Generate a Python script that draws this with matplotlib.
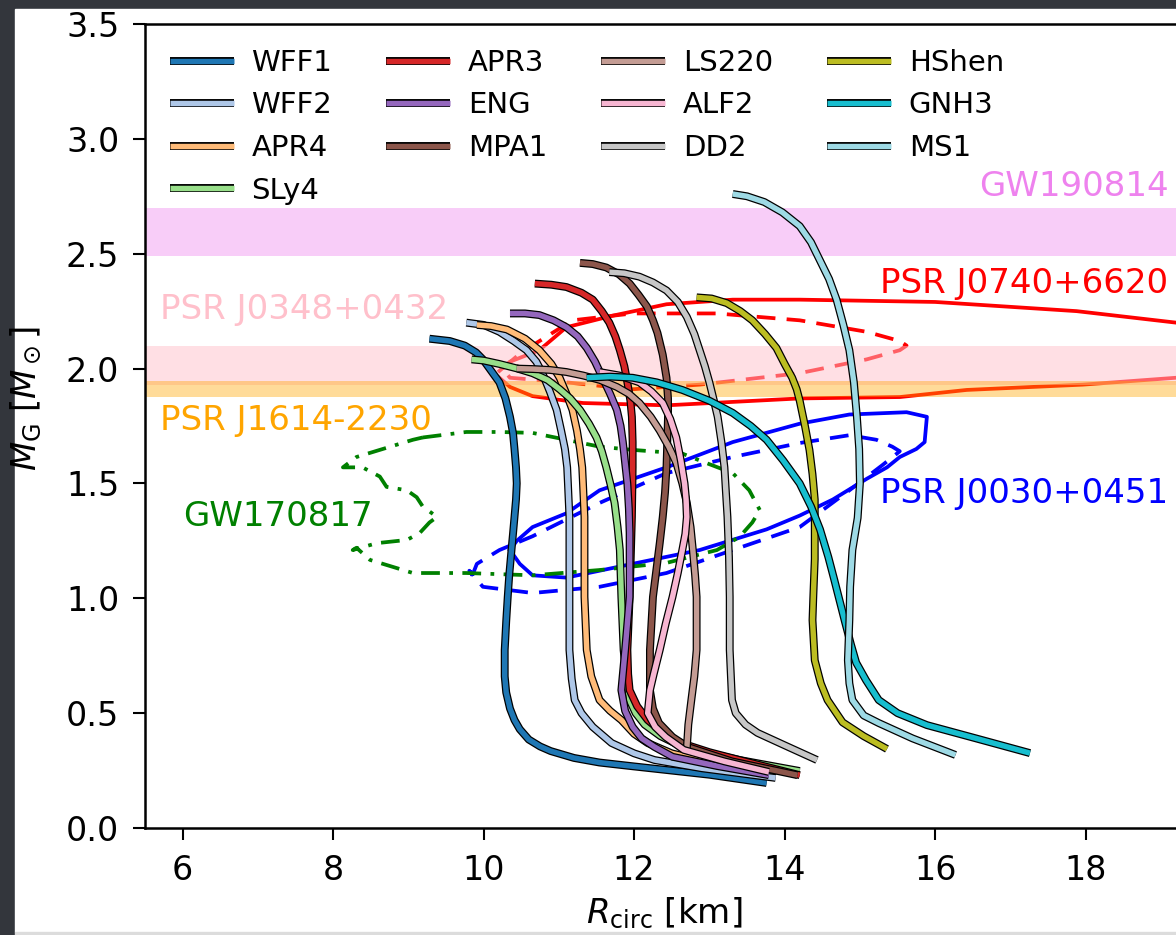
import numpy as np
import matplotlib.pyplot as plt
import matplotlib.patheffects as pe
from matplotlib.patches import Rectangle

# mass-radius curves (R in km, M in Msun)
R_WFF1 = [9.28, 9.55, 9.75, 9.90, 9.99, 10.10, 10.21, 10.29, 10.35, 10.39, 10.41, 10.43, 10.44, 10.43, 10.41, 10.39, 10.37, 10.34, 10.32, 10.30, 10.28, 10.28, 10.30, 10.35, 10.41, 10.48, 10.60, 10.75, 10.89, 11.20, 11.54, 12.00, 12.50, 13.00, 13.76]
M_WFF1 = [2.13, 2.12, 2.10, 2.07, 2.04, 1.99, 1.94, 1.87, 1.79, 1.72, 1.65, 1.57, 1.50, 1.43, 1.354, 1.28, 1.21, 1.10, 1.006, 0.90, 0.775, 0.66, 0.59, 0.52, 0.47, 0.43, 0.385, 0.355, 0.335, 0.305, 0.285, 0.268, 0.25, 0.232, 0.196]
R_WFF2 = [9.77, 10.00, 10.21, 10.40, 10.57, 10.70, 10.78, 10.88, 10.97, 11.03, 11.08, 11.11, 11.12, 11.14, 11.14, 11.14, 11.14, 11.17, 11.21, 11.30, 11.45, 11.70, 12.00, 12.27, 12.90, 13.88]
M_WFF2 = [2.20, 2.19, 2.16, 2.12, 2.08, 2.03, 1.98, 1.90, 1.82, 1.73, 1.65, 1.57, 1.50, 1.354, 1.18, 1.006, 0.775, 0.65, 0.557, 0.50, 0.44, 0.37, 0.325, 0.296, 0.26, 0.218]
R_APR4 = [9.91, 10.10, 10.31, 10.55, 10.74, 10.90, 11.01, 11.10, 11.18, 11.24, 11.28, 11.31, 11.32, 11.34, 11.34, 11.34, 11.37, 11.43, 11.54, 11.68, 11.83, 12.00, 12.18, 12.50, 12.87, 13.50, 14.20]
M_APR4 = [2.19, 2.185, 2.17, 2.13, 2.08, 2.02, 1.96, 1.89, 1.82, 1.73, 1.65, 1.57, 1.50, 1.354, 1.18, 1.006, 0.775, 0.66, 0.557, 0.51, 0.47, 0.41, 0.37, 0.325, 0.296, 0.265, 0.24]
R_SLy4 = [9.84, 10.00, 10.21, 10.45, 10.65, 10.85, 11.01, 11.15, 11.28, 11.40, 11.50, 11.57, 11.63, 11.69, 11.74, 11.78, 11.81, 11.83, 11.86, 11.90, 11.94, 12.02, 12.14, 12.35, 12.60, 13.00, 13.40, 14.20]
M_SLy4 = [2.04, 2.035, 2.02, 2.00, 1.98, 1.95, 1.91, 1.87, 1.82, 1.76, 1.70, 1.64, 1.57, 1.49, 1.415, 1.31, 1.21, 1.006, 0.775, 0.65, 0.557, 0.50, 0.45, 0.40, 0.36, 0.325, 0.296, 0.248]
R_APR3 = [10.68, 10.90, 11.10, 11.30, 11.45, 11.57, 11.67, 11.75, 11.81, 11.87, 11.91, 11.95, 11.97, 11.98, 11.98, 11.97, 11.94, 11.91, 11.92, 11.94, 12.04, 12.18, 12.40, 12.62, 13.00, 13.40, 14.20]
M_APR3 = [2.37, 2.365, 2.355, 2.33, 2.30, 2.25, 2.20, 2.14, 2.08, 2.01, 1.94, 1.86, 1.79, 1.68, 1.57, 1.354, 1.006, 0.775, 0.67, 0.60, 0.53, 0.47, 0.41, 0.37, 0.33, 0.296, 0.23]
R_ENG = [10.35, 10.55, 10.74, 10.93, 11.10, 11.25, 11.37, 11.48, 11.58, 11.68, 11.77, 11.82, 11.85, 11.88, 11.91, 11.93, 11.94, 11.94, 11.88, 11.83, 11.88, 11.98, 12.10, 12.27, 12.51, 13.10, 13.79]
M_ENG = [2.24, 2.24, 2.233, 2.21, 2.18, 2.14, 2.09, 2.03, 1.96, 1.89, 1.82, 1.75, 1.68, 1.59, 1.50, 1.39, 1.284, 1.006, 0.775, 0.60, 0.51, 0.44, 0.39, 0.353, 0.31, 0.27, 0.23]
R_MPA1 = [11.28, 11.45, 11.63, 11.80, 11.94, 12.06, 12.17, 12.25, 12.31, 12.38, 12.43, 12.45, 12.45, 12.44, 12.43, 12.41, 12.38, 12.34, 12.30, 12.25, 12.21, 12.21, 12.25, 12.33, 12.51, 12.71, 13.30, 14.17]
M_MPA1 = [2.46, 2.455, 2.44, 2.41, 2.37, 2.32, 2.27, 2.21, 2.155, 2.06, 1.96, 1.87, 1.79, 1.68, 1.57, 1.46, 1.354, 1.24, 1.136, 1.006, 0.775, 0.60, 0.52, 0.457, 0.396, 0.353, 0.29, 0.23]
R_LS220 = [10.44, 10.65, 10.88, 11.10, 11.32, 11.55, 11.77, 11.93, 12.07, 12.22, 12.34, 12.46, 12.56, 12.64, 12.70, 12.75, 12.78, 12.81, 12.83, 12.83, 12.80, 12.76, 12.72, 12.70]
M_LS220 = [2.00, 1.998, 1.994, 1.985, 1.97, 1.95, 1.92, 1.89, 1.85, 1.79, 1.73, 1.66, 1.59, 1.50, 1.415, 1.31, 1.21, 1.10, 1.006, 0.775, 0.66, 0.557, 0.45, 0.348]
R_ALF2 = [11.54, 11.80, 12.07, 12.23, 12.38, 12.48, 12.56, 12.62, 12.67, 12.69, 12.70, 12.68, 12.64, 12.58, 12.51, 12.42, 12.34, 12.26, 12.21, 12.18, 12.28, 12.42, 12.66, 13.20, 13.79]
M_ALF2 = [1.985, 1.97, 1.94, 1.90, 1.85, 1.78, 1.70, 1.60, 1.50, 1.43, 1.354, 1.28, 1.21, 1.11, 1.006, 0.89, 0.775, 0.67, 0.60, 0.50, 0.44, 0.396, 0.34, 0.29, 0.244]
R_DD2 = [11.67, 11.87, 12.07, 12.25, 12.43, 12.58, 12.70, 12.80, 12.87, 12.94, 13.00, 13.06, 13.11, 13.16, 13.20, 13.22, 13.24, 13.26, 13.27, 13.27, 13.30, 13.35, 13.48, 13.64, 14.00, 14.43]
M_DD2 = [2.42, 2.415, 2.40, 2.375, 2.34, 2.29, 2.225, 2.15, 2.08, 2.01, 1.94, 1.86, 1.79, 1.68, 1.57, 1.46, 1.354, 1.18, 1.006, 0.775, 0.557, 0.50, 0.45, 0.414, 0.36, 0.296]
R_HShen = [12.83, 13.03, 13.23, 13.41, 13.57, 13.74, 13.89, 14.00, 14.10, 14.16, 14.20, 14.27, 14.33, 14.37, 14.40, 14.40, 14.38, 14.37, 14.40, 14.48, 14.57, 14.77, 15.05, 15.36]
M_HShen = [2.31, 2.305, 2.285, 2.25, 2.21, 2.15, 2.09, 2.02, 1.96, 1.91, 1.86, 1.75, 1.645, 1.54, 1.43, 1.17, 1.00, 0.905, 0.73, 0.63, 0.557, 0.46, 0.40, 0.344]
R_GNH3 = [11.37, 11.68, 11.98, 12.30, 12.64, 13.00, 13.31, 13.55, 13.76, 13.98, 14.20, 14.35, 14.47, 14.58, 14.66, 14.73, 14.80, 14.88, 14.95, 15.08, 15.25, 15.50, 15.89, 16.60, 17.26]
M_GNH3 = [1.96, 1.965, 1.96, 1.94, 1.907, 1.86, 1.807, 1.75, 1.69, 1.60, 1.50, 1.40, 1.30, 1.18, 1.08, 0.99, 0.90, 0.80, 0.72, 0.644, 0.557, 0.50, 0.448, 0.385, 0.326]
R_MS1 = [13.31, 13.50, 13.73, 13.97, 14.20, 14.35, 14.47, 14.59, 14.69, 14.78, 14.86, 14.92, 14.96, 14.99, 15.00, 14.97, 14.90, 14.87, 14.86, 14.84, 14.86, 14.90, 15.05, 15.25, 15.70, 16.27]
M_MS1 = [2.76, 2.75, 2.725, 2.68, 2.62, 2.55, 2.47, 2.39, 2.30, 2.19, 2.08, 1.94, 1.79, 1.65, 1.50, 1.35, 1.21, 1.05, 0.905, 0.73, 0.63, 0.557, 0.49, 0.457, 0.39, 0.318]

eos_names = ['WFF1', 'WFF2', 'APR4', 'SLy4', 'APR3', 'ENG', 'MPA1',
             'LS220', 'ALF2', 'DD2', 'HShen', 'GNH3', 'MS1']
eos_R = [R_WFF1, R_WFF2, R_APR4, R_SLy4, R_APR3, R_ENG, R_MPA1,
         R_LS220, R_ALF2, R_DD2, R_HShen, R_GNH3, R_MS1]
eos_M = [M_WFF1, M_WFF2, M_APR4, M_SLy4, M_APR3, M_ENG, M_MPA1,
         M_LS220, M_ALF2, M_DD2, M_HShen, M_GNH3, M_MS1]
eos_colors = ['#1f77b4', '#aec7e8', '#ffbb78', '#98df8a', '#d62728', '#9467bd', '#8c564b',
              '#c49c94', '#f7b6d2', '#c7c7c7', '#bcbd22', '#17becf', '#9edae5']

# observational constraints
J0740_R = [10.21, 10.35, 10.74, 11.10, 11.71, 12.43, 13.31, 14.20, 16.0, 17.88, 19.2, 20.0,
           20.0, 19.2, 17.96, 16.42, 15.53, 14.20, 12.43, 11.32, 10.65, 10.35, 10.21]
J0740_M = [1.99, 2.03, 2.08, 2.18, 2.23, 2.28, 2.30, 2.30, 2.29, 2.25, 2.20, 2.17,
           1.99, 1.96, 1.93, 1.907, 1.876, 1.87, 1.84, 1.85, 1.88, 1.92, 1.96]
J0740b_R = [10.25, 10.50, 10.84, 11.18, 11.98, 13.10, 14.20, 15.09, 15.53, 15.62,
            15.53, 15.09, 14.20, 12.87, 11.98, 11.10, 10.35, 10.25]
J0740b_M = [2.00, 2.07, 2.14, 2.21, 2.24, 2.24, 2.21, 2.16, 2.12, 2.10,
            2.08, 2.04, 1.98, 1.93, 1.91, 1.94, 1.96, 2.00]
J0030_R = [10.35, 10.44, 10.65, 11.10, 11.54, 12.43, 13.31, 14.20, 14.86, 15.62, 15.89, 15.86,
           15.75, 15.53, 15.36, 15.09, 14.64, 14.20, 13.76, 12.87, 11.98, 11.10, 10.65, 10.48, 10.35]
J0030_M = [1.21, 1.25, 1.31, 1.37, 1.47, 1.57, 1.68, 1.76, 1.80, 1.81, 1.79, 1.68,
           1.65, 1.615, 1.57, 1.52, 1.43, 1.36, 1.30, 1.21, 1.15, 1.09, 1.10, 1.15, 1.21]
J0030b_R = [9.85, 9.91, 10.21, 10.65, 11.54, 12.43, 13.31, 14.20, 14.86, 15.22, 15.43, 15.53,
            15.30, 14.86, 14.20, 13.31, 12.43, 11.54, 10.65, 9.99, 9.81, 9.85]
J0030b_M = [1.10, 1.15, 1.21, 1.27, 1.415, 1.545, 1.615, 1.676, 1.71, 1.69, 1.66, 1.64,
            1.58, 1.47, 1.31, 1.21, 1.11, 1.05, 1.023, 1.05, 1.12, 1.10]
GW170817_R = [9.19, 9.77, 10.21, 10.65, 11.10, 11.54, 11.98, 12.64, 12.87, 13.31, 13.53, 13.67,
              13.57, 13.40, 13.10, 12.43, 11.54, 10.65, 9.77, 9.06, 8.49, 8.31, 8.26, 8.58,
              8.98, 9.15, 9.28, 9.38, 9.19, 9.11, 8.98, 8.71, 8.62, 8.39, 8.13, 8.31,
              8.62, 9.06, 9.19]
GW170817_M = [1.70, 1.724, 1.724, 1.72, 1.69, 1.66, 1.646, 1.63, 1.60, 1.545, 1.47, 1.384,
              1.33, 1.267, 1.21, 1.154, 1.123, 1.10, 1.11, 1.11, 1.167, 1.22, 1.21, 1.24,
              1.254, 1.284, 1.33, 1.354, 1.40, 1.44, 1.47, 1.485, 1.53, 1.57, 1.57, 1.615,
              1.646, 1.69, 1.70]

bands = [(2.49, 2.70, 'violet', 0.4),      # GW190814
         (1.93, 2.10, 'pink', 0.5),        # PSR J0348+0432
         (1.876, 1.945, 'orange', 0.4)]    # PSR J1614-2230

W, H = 1176, 935
fig = plt.figure(figsize=(W / 100, H / 100), dpi=100, facecolor='#33363c')
fig.patches.append(Rectangle((15 / W, 3 / H), 1 - 15 / W, (H - 12) / H,
                             transform=fig.transFigure, color='white', zorder=-5))
fig.patches.append(Rectangle((15 / W, 0), 1 - 15 / W, 3 / H,
                             transform=fig.transFigure, color='#dcdcdc', zorder=-5))

ax = fig.add_axes([145 / W, 107 / H, 1038.5 / W, 804 / H])

# contours
ax.plot(J0740_R, J0740_M, color='red', lw=2.7, zorder=1)
ax.plot(J0740b_R, J0740b_M, color='red', lw=2.7, ls=(0, (5, 3)), zorder=1)
ax.plot(J0030_R, J0030_M, color='blue', lw=2.7, zorder=1)
ax.plot(J0030b_R, J0030b_M, color='blue', lw=2.7, ls=(0, (5, 3)), zorder=1)
ax.plot(GW170817_R, GW170817_M, color='green', lw=2.7, ls=(0, (5, 2.5, 1, 2.5)), zorder=1)

for lo, hi, c, a in bands:
    ax.axhspan(lo, hi, color=c, alpha=a, lw=0, zorder=2)

for name, R, M, c in zip(eos_names, eos_R, eos_M, eos_colors):
    ax.plot(R, M, color=c, lw=3.9, label=name, solid_capstyle='butt',
            solid_joinstyle='round', zorder=3,
            path_effects=[pe.Stroke(linewidth=5.7, foreground='black'), pe.Normal()])

fs = 24.5
ax.text(19.1, 2.72, 'GW190814', color='violet', fontsize=fs, ha='right', va='bottom')
ax.text(19.1, 2.37, 'PSR J0740+6620', color='red', fontsize=fs, ha='right', va='center')
ax.text(5.7, 2.255, 'PSR J0348+0432', color='pink', fontsize=fs, ha='left', va='center')
ax.text(5.7, 1.776, 'PSR J1614-2230', color='orange', fontsize=fs, ha='left', va='center')
ax.text(6.0, 1.354, 'GW170817', color='green', fontsize=fs, ha='left', va='center')
ax.text(19.1, 1.458, 'PSR J0030+0451', color='blue', fontsize=fs, ha='right', va='center')

ax.set_xlim(5.5, 19.3)
ax.set_ylim(0, 3.5)
ax.set_xticks([6, 8, 10, 12, 14, 16, 18])
ax.set_yticks(np.arange(0, 3.51, 0.5))
ax.tick_params(labelsize=24, length=8.5, width=1.5, pad=10)
for s in ax.spines.values():
    s.set_linewidth(1.8)
ax.set_xlabel(r'$R_{\rm circ}$ [km]', fontsize=24.5, labelpad=6)
ax.set_ylabel(r'$M_{\rm G}$ [$M_\odot$]', fontsize=24.5)
ax.yaxis.set_label_coords(-0.097, 0.534)

ax.legend(ncol=4, loc='upper left', frameon=False, fontsize=21, handlelength=2.2,
          handletextpad=0.6, labelspacing=0.5, columnspacing=1.85, borderaxespad=0.45)

fig.savefig('out.png', dpi=100)
